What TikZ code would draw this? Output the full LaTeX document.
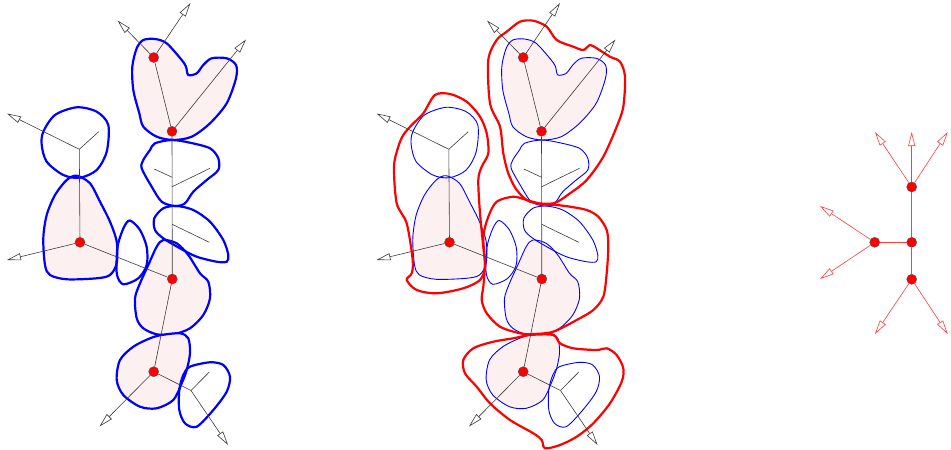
\documentclass[tikz,border=0pt]{standalone}
\usetikzlibrary{arrows.meta}
\definecolor{blobpink}{RGB}{253,240,240}
\definecolor{treegray}{RGB}{60,60,60}
\definecolor{lightred}{RGB}{255,60,60}
\tikzset{
  edge/.style={draw=treegray, line width=0.6pt},
  arr/.style={edge, -{Triangle[open, fill=white, length=14pt, width=7pt]}},
  rarr/.style={draw=lightred, line width=0.6pt, -{Triangle[open, fill=white, length=14pt, width=7pt]}},
  redge/.style={draw=lightred, line width=0.6pt},
  vtx/.style={circle, fill=red, draw=black!70, line width=0.4pt, minimum size=10pt, inner sep=0pt},
  thickblue/.style={draw=blue, line width=2.2pt},
  thinblue/.style={draw=blue, line width=0.9pt},
  redline/.style={draw=red, line width=2.2pt},
}
\newcommand\blobset[2]{%
  \path[#1] plot[smooth cycle] coordinates {(143.3,40) (155,39) (166.7,43.3) (181.7,60) (186,66.7) (188.3,75) (196.7,73.3) (203.3,65) (211.7,58.3) (226.7,58.3) (236,65) (236,78.3) (226.7,103.3) (210,123.3) (191.7,136.7) (173.3,140) (156.7,136.7) (143.3,126.7) (139.3,113.3) (133.3,90) (132.3,66.7) (136.7,48.3)};
  \path[#1] plot[smooth cycle] coordinates {(76.7,175.7) (90,183.3) (100,201.7) (110,221.7) (116.7,241.7) (116.7,263.3) (110,275) (96.7,278.3) (66.7,279.3) (50,275) (45,265) (43.3,238.3) (46.7,215) (55,195) (66.7,180)};
  \path[#1] plot[smooth cycle] coordinates {(163.3,240) (176.7,243.3) (188.3,255) (200,273.3) (208.3,281.7) (210,298.3) (203.3,315) (190,328.3) (173.3,334.3) (156.7,334.3) (143.3,328.3) (136.7,318.3) (135,298.3) (140,283.3) (148.3,265) (156.7,246.7)};
  \path[#1] plot[smooth cycle] coordinates {(161.7,335) (180,333.3) (188.3,338.3) (190,353.3) (186.7,370) (181.7,383.3) (173.3,400) (156.7,408.3) (140,406.7) (123.3,395) (116.7,380) (120,360) (133.3,346.7) (150,338.3)};
  \path[#2] plot[smooth cycle] coordinates {(43.3,131.7) (55,115) (76.7,107.3) (96.7,111.7) (108.3,125) (106.7,151.7) (96.7,170) (80,177.7) (63.3,175) (46.7,161.7) (41.7,145)};
  \path[#2] plot[smooth cycle] coordinates {(130,220.5) (140,230) (146.7,247) (146.7,265) (138.3,278.3) (123.3,284.3) (117,275) (116.7,258) (118.3,243) (124,227)};
  \path[#2] plot[smooth cycle] coordinates {(155,143.3) (171.7,140) (190,142.7) (210,148.3) (218.3,158.3) (218.3,170) (206.7,180) (193.3,191.7) (185,203.3) (175,206) (161.7,201.7) (151.7,186.7) (141.7,168.3) (143.3,160) (150,150)};
  \path[#2] plot[smooth cycle] coordinates {(163.3,208.3) (176.7,206) (193.3,210) (210,221.7) (223.3,240) (228.3,255) (226.7,261.7) (216.7,261.7) (196.7,256.7) (180,248.3) (163.3,238.3) (155,230) (154.3,218.3)};
  \path[#2] plot[smooth cycle] coordinates {(190,366.7) (210,362.3) (223.3,365) (230,376.7) (226.7,391.7) (213.3,410) (196.7,426.7) (185,423.3) (179.3,410) (179.3,390) (183.3,375)};
}
\newcommand\mytree[1]{%
  \node[vtx] (#1A) at (153.7,57.5) {};
  \node[vtx] (#1B) at (172,131.3) {};
  \node[vtx] (#1C) at (80,242.3) {};
  \node[vtx] (#1D) at (172.3,279) {};
  \node[vtx] (#1E) at (153.7,371.7) {};
  \coordinate (#1F) at (79.3,149.3);
  \coordinate (#1G) at (191,390.5);
  \coordinate (#1Fl) at (98.7,131.7);
  \coordinate (#1Gl) at (209.3,372);
  \coordinate (#1J1) at (172.2,177.3);
  \coordinate (#1J2) at (172.2,186.7);
  \coordinate (#1J3) at (172.2,224.3);
  \coordinate (#1L1) at (154.3,169);
  \coordinate (#1L2) at (210,168.3);
  \coordinate (#1L3) at (209.3,242.3);
  \coordinate (#1a1) at (117.5,20.5);
  \coordinate (#1a2) at (190.5,3);
  \coordinate (#1b1) at (246,39.5);
  \coordinate (#1f1) at (7,113.5);
  \coordinate (#1c1) at (7,260);
  \coordinate (#1e1) at (99.5,426.5);
  \coordinate (#1g1) at (228,445);
  \draw[edge] (#1A) -- (#1B);
  \draw[edge] (#1B) -- (#1D);
  \draw[edge] (#1F) -- (#1C);
  \draw[edge] (#1C) -- (#1D);
  \draw[edge] (#1D) -- (#1E);
  \draw[edge] (#1E) -- (#1G);
  \draw[edge] (#1F) -- (#1Fl);
  \draw[edge] (#1G) -- (#1Gl);
  \draw[edge] (#1J1) -- (#1L1);
  \draw[edge] (#1J2) -- (#1L2);
  \draw[edge] (#1J3) -- (#1L3);
  \draw[arr] (#1A) -- (#1a1);
  \draw[arr] (#1A) -- (#1a2);
  \draw[arr] (#1B) -- (#1b1);
  \draw[arr] (#1F) -- (#1f1);
  \draw[arr] (#1C) -- (#1c1);
  \draw[arr] (#1E) -- (#1e1);
  \draw[arr] (#1G) -- (#1g1);
}
\begin{document}
\begin{tikzpicture}[x=1pt,y=-1pt]
\useasboundingbox (0,0) rectangle (951,450);
% left diagram
\blobset{fill=blobpink, thickblue}{thickblue}
\mytree{l}
% middle diagram
\begin{scope}[xshift=369.5pt]
\blobset{fill=blobpink, thinblue}{thinblue}
\end{scope}
\path[redline] plot[smooth cycle] coordinates {(435,95) (450,94) (466.7,101.7) (480,116.7) (486.7,133.3) (488.3,153.3) (481.7,166.7) (478.3,180) (480,213.3) (483.3,246.7) (485,266.7) (480,280) (463.3,288.3) (436.7,293.3) (416.7,290) (406.7,280) (411.7,273.3) (412.7,260) (406.7,223.3) (396.7,203.3) (394,166.7) (398.3,146.7) (403.3,135) (411.7,125) (423.3,113.3)};
\path[redline] plot[smooth cycle] coordinates {(520,21.7) (533.3,20.7) (546.7,26.7) (556.7,40) (573.3,46.7) (583.3,50) (590,45) (596.7,48.3) (610,56.7) (620,61.7) (625,76.7) (623.3,106.7) (616.7,126.7) (603.3,156.7) (586.7,180) (570,193.3) (553.3,203.3) (530,201.7) (516.7,190) (508.3,173.3) (503.3,153.3) (500,126.7) (490,103.3) (488.3,60) (496.7,40) (506.7,31.7)};
\path[redline] plot[smooth cycle] coordinates {(496.7,201.7) (513.3,196.7) (526.7,200) (541.7,204) (556.7,205) (570,206.7) (586.7,210) (598.3,216.7) (606.7,230) (608.3,246.7) (606.7,273.3) (603.3,296.7) (593.3,310) (576.7,320) (553.3,331.7) (533.3,334) (520,333.3) (500,326.7) (486.7,313.3) (481.7,300) (483.3,286.7) (485,263.3) (483.3,236.7) (488.3,216.7)};
\path[redline] plot[smooth cycle] coordinates {(530,335) (553.3,335) (560,343.3) (573.3,348.3) (596.7,350) (606.7,348.3) (616.7,355) (623.3,368.3) (621.7,381.7) (610,403.3) (593.3,423.3) (576.7,436.7) (560,445) (545,448.3) (541.7,440) (533.3,433.3) (510,420) (490,403.3) (476.7,386.7) (465,373.3) (463.3,360) (473.3,348.3) (493.3,341.7) (513.3,338.3)};
\begin{scope}[xshift=369.5pt]
\mytree{m}
\end{scope}
% right diagram
\node[vtx] (rT) at (911.7,187) {};
\node[vtx] (rM) at (911.7,242.3) {};
\node[vtx] (rL) at (874.7,242.3) {};
\node[vtx] (rB) at (911.7,279.3) {};
\coordinate (rt1) at (875,132);
\coordinate (rt2) at (911.7,132);
\coordinate (rt3) at (947.7,132);
\coordinate (rl1) at (820,206);
\coordinate (rl2) at (820,279);
\coordinate (rb1) at (875,334);
\coordinate (rb2) at (947.7,334);
\draw[redge] (rT) -- (rM);
\draw[redge] (rM) -- (rL);
\draw[redge] (rM) -- (rB);
\draw[rarr] (rT) -- (rt1);
\draw[rarr] (rT) -- (rt2);
\draw[rarr] (rT) -- (rt3);
\draw[rarr] (rL) -- (rl1);
\draw[rarr] (rL) -- (rl2);
\draw[rarr] (rB) -- (rb1);
\draw[rarr] (rB) -- (rb2);
\end{tikzpicture}
\end{document}
